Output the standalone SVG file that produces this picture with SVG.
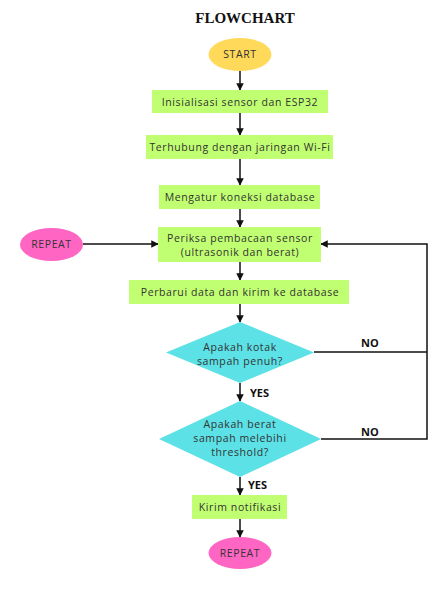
<svg xmlns="http://www.w3.org/2000/svg" width="448" height="597" viewBox="0 0 448 597">
<style>
.t{font-family:"Open Sans","Noto Sans",sans-serif;font-size:10.5px;fill:#333;text-anchor:middle;letter-spacing:0.6px}
.box{fill:#c1ff72}
.dia{fill:#5ce1e6}
.ln{stroke:#111;stroke-width:1.5;fill:none}
.lbl{font-family:"Open Sans","Noto Sans",sans-serif;font-size:11px;font-weight:bold;fill:#111}
</style>
<defs>
<marker id="ah" viewBox="0 0 10 10" refX="9" refY="5" markerWidth="5" markerHeight="5" orient="auto">
<path d="M0,0 L10,5 L0,10 z" fill="#111"/>
</marker>
</defs>
<rect width="448" height="597" fill="#fff"/>
<text x="245" y="23" font-family="Liberation Serif,serif" font-size="15" font-weight="bold" text-anchor="middle" fill="#111">FLOWCHART</text>
<g id="connectors">
<line class="ln" x1="240" y1="71" x2="240" y2="90" marker-end="url(#ah)"/>
<line class="ln" x1="240" y1="113" x2="240" y2="135" marker-end="url(#ah)"/>
<line class="ln" x1="240" y1="159" x2="240" y2="185" marker-end="url(#ah)"/>
<line class="ln" x1="240" y1="209" x2="240" y2="227" marker-end="url(#ah)"/>
<line class="ln" x1="83" y1="244" x2="158" y2="244" marker-end="url(#ah)"/>
<line class="ln" x1="240" y1="262" x2="240" y2="280" marker-end="url(#ah)"/>
<line class="ln" x1="240" y1="304" x2="240" y2="322" marker-end="url(#ah)"/>
<line class="ln" x1="240" y1="383" x2="240" y2="401" marker-end="url(#ah)"/>
<line class="ln" x1="240" y1="477" x2="240" y2="495" marker-end="url(#ah)"/>
<line class="ln" x1="240" y1="519" x2="240" y2="537" marker-end="url(#ah)"/>
<polyline class="ln" points="314,352 427,352"/>
<polyline class="ln" points="321,439 427,439 427,244 321,244" marker-end="url(#ah)"/>
<text class="lbl" x="361" y="347">NO</text>
<text class="lbl" x="361" y="436">NO</text>
<text class="lbl" x="250" y="397">YES</text>
<text class="lbl" x="248" y="489">YES</text>
</g>
<g id="start">
<ellipse cx="240" cy="54.5" rx="31.5" ry="16.5" fill="#ffd95a"/>
<text class="t" x="240" y="58">START</text>
</g>
<g id="init">
<rect class="box" x="152" y="90" width="176" height="23"/>
<text class="t" x="240" y="105.5">Inisialisasi sensor dan ESP32</text>
</g>
<g id="wifi">
<rect class="box" x="146" y="135" width="187" height="24"/>
<text class="t" x="240" y="151">Terhubung dengan jaringan Wi-Fi</text>
</g>
<g id="db">
<rect class="box" x="159" y="185" width="161" height="24"/>
<text class="t" x="240" y="201">Mengatur koneksi database</text>
</g>
<g id="repeat1">
<ellipse cx="51.5" cy="244.5" rx="31.5" ry="16.5" fill="#ff66c4"/>
<text class="t" x="51.5" y="248" font-size="10">REPEAT</text>
</g>
<g id="check">
<rect class="box" x="158" y="227" width="163" height="35"/>
<text class="t" x="240" y="242">Periksa pembacaan sensor</text>
<text class="t" x="240" y="256">(ultrasonik dan berat)</text>
</g>
<g id="update">
<rect class="box" x="129" y="280" width="220" height="24"/>
<text class="t" x="240" y="296">Perbarui data dan kirim ke database</text>
</g>
<g id="full">
<polygon class="dia" points="240,322 314,352.5 240,383 166,352.5"/>
<text class="t" x="240" y="351">Apakah kotak</text>
<text class="t" x="240" y="365">sampah penuh?</text>
</g>
<g id="weight">
<polygon class="dia" points="240,401 321,439 240,477 159,439"/>
<text class="t" x="240" y="428">Apakah berat</text>
<text class="t" x="240" y="442">sampah melebihi</text>
<text class="t" x="240" y="456">threshold?</text>
</g>
<g id="notify">
<rect class="box" x="192" y="495" width="95" height="24"/>
<text class="t" x="240" y="511">Kirim notifikasi</text>
</g>
<g id="repeat2">
<ellipse cx="240" cy="553" rx="31.5" ry="16" fill="#ff66c4"/>
<text class="t" x="240" y="557" font-size="10">REPEAT</text>
</g>
</svg>
